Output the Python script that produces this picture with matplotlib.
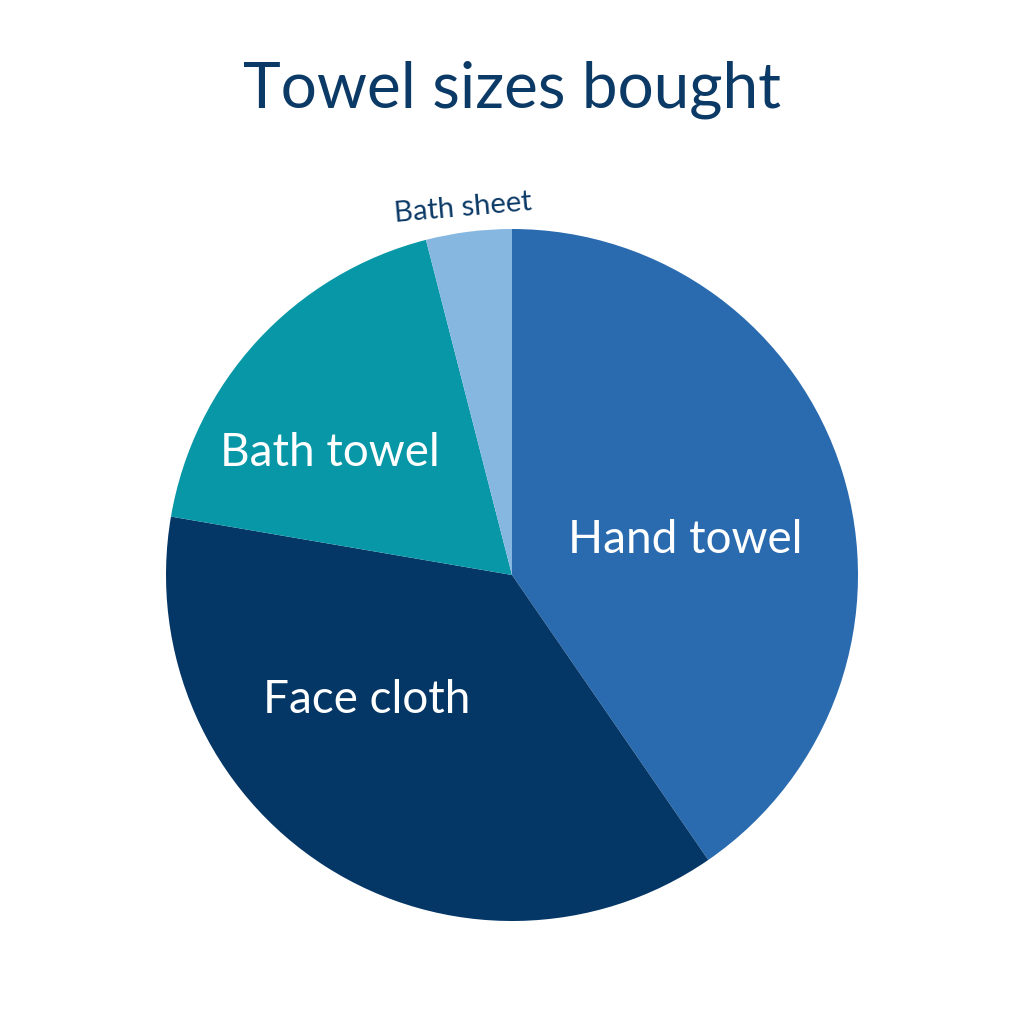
import matplotlib.pyplot as plt

# towel sizes (percent)
categories = ["Hand towel", "Face cloth", "Bath towel", "Bath sheet"]
shares = [40.4, 37.3, 18.3, 4.0]

colors = ["#2a6bb0", "#053766", "#0797a7", "#86b7e1"]
text_color = "#0c3a66"

# label placement inside the pie (data units, radius = 1)
label_xy = [(0.50, 0.10), (-0.42, -0.36), (-0.526, 0.353), (-0.142, 1.06)]
label_size = [33, 33, 33, 21]
label_rot = [0, 0, 0, 5]
label_col = ["white", "white", "white", text_color]

plt.rcParams['font.family'] = ['Lato', 'DejaVu Sans']

fig = plt.figure(figsize=(10.24, 10.24), dpi=100)
fig.patch.set_facecolor("white")

r = 346 / 1024
cx, cy = 0.5, (1024 - 575) / 1024
ax = fig.add_axes([cx - r, cy - r, 2 * r, 2 * r])

ax.pie(shares, colors=colors, startangle=90, counterclock=False,
       wedgeprops=dict(linewidth=0))
ax.set_xlim(-1, 1)
ax.set_ylim(-1, 1)
ax.set_aspect("equal")
ax.axis("off")

for name, (x, y), s, rot, c in zip(categories, label_xy, label_size, label_rot, label_col):
    ax.text(x, y, name, ha="center", va="center", fontsize=s,
            rotation=rot, color=c, clip_on=False)

fig.text(0.5, 1 - 90 / 1024, "Towel sizes bought", ha="center", va="center",
         fontsize=46, color=text_color)

fig.savefig("out.png", dpi=100)
